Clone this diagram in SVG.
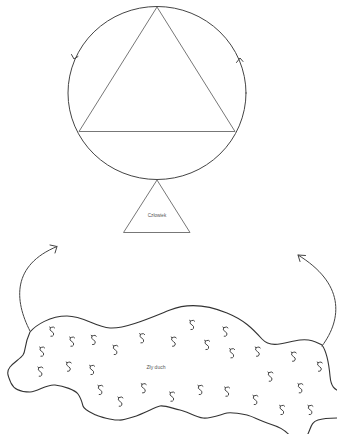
<svg xmlns="http://www.w3.org/2000/svg" width="337" height="434" viewBox="0 0 337 434">
<style>
.ln{fill:none;stroke:#444;stroke-width:1;stroke-linecap:round;stroke-linejoin:round}
.tri{fill:none;stroke:#777;stroke-width:1}
.blob{fill:#fff;stroke:#333;stroke-width:1.1;stroke-linejoin:round}
.sq{fill:none;stroke:#333;stroke-width:0.9;stroke-linecap:round;stroke-linejoin:round}
.lbl{font-family:"Liberation Sans",Arial,sans-serif;fill:#555;text-anchor:middle}
</style>
<defs>
<path id="s" class="sq" d="M-2.2,-4.6 Q-1.2,-3.4 0,-4.4 Q1.8,-5.4 3,-3.8 M-1.4,-4 Q-3,-1.4 0.3,0 Q2.6,1 1.8,3.4 Q1.2,4.8 -0.8,4.6"/>
</defs>
<rect width="337" height="434" fill="#fff"/>
<g id="trinity">
<ellipse cx="157" cy="93" rx="89" ry="86.5" class="ln"/>
<polygon points="157,7 79,131.5 235,131.5" class="tri"/>
<path class="ln" d="M71.5,54.5 L74,59 L78,56.5"/>
<path class="ln" d="M236.5,62.5 L240,58 L243,61.5"/>
</g>
<g id="czlowiek">
<polygon points="157,180 123.5,232.5 190,232.5" class="tri"/>
<text x="157" y="216.5" class="lbl" font-size="4.6">Człowiek</text>
</g>
<g id="zly-duch">
<path class="blob" d="M30,332 C36,325 50,316 67,316 S95,327 110,328 S150,318 170,310 S210,306 227,313 S252,328 262,339 S288,341 300,340 S316,342 322,345 C327,352 329,365 330,376 S334,389 342,393 L342,418 C335,418 325,418 318,420 S311,428 307,436 L290,436 C287,432 280,427 270,424 S252,416 247,415 S232,412 227,413 S210,419 203,418 S186,411 180,410 S165,405 160,406 S145,413 133,417 S122,420 117,420 S100,417 96,415 S84,410 83,406 S81,398 78,394 S64,386 55,385 S38,392 30,392 S14,390 11,383 S6,372 10,367 S20,359 23,355 S24,345 30,332 Z"/>
<use href="#s" x="51.7" y="331.7"/>
<use href="#s" x="71.7" y="341.7"/>
<use href="#s" x="93.3" y="340"/>
<use href="#s" x="115" y="350"/>
<use href="#s" x="141.7" y="338.3"/>
<use href="#s" x="41.7" y="351.7"/>
<use href="#s" x="40" y="371.7"/>
<use href="#s" x="68.3" y="366.7"/>
<use href="#s" x="91.7" y="370"/>
<use href="#s" x="100" y="390"/>
<use href="#s" x="120" y="401.7"/>
<use href="#s" x="143.3" y="388.3"/>
<use href="#s" x="191.7" y="325"/>
<use href="#s" x="173.3" y="341.7"/>
<use href="#s" x="206.7" y="345"/>
<use href="#s" x="225" y="331.7"/>
<use href="#s" x="231.7" y="353.3"/>
<use href="#s" x="257.3" y="351.7"/>
<use href="#s" x="293.3" y="356.7"/>
<use href="#s" x="319.3" y="366.7"/>
<use href="#s" x="270" y="376.7"/>
<use href="#s" x="300" y="388.3"/>
<use href="#s" x="171.7" y="396.7"/>
<use href="#s" x="200" y="390"/>
<use href="#s" x="226.7" y="391.7"/>
<use href="#s" x="255" y="400"/>
<use href="#s" x="281.7" y="410"/>
<use href="#s" x="310" y="410"/>
<text x="156" y="368.5" class="lbl" font-size="5">Zły duch</text>
</g>
<g id="connectors">
<path class="ln" d="M30,331 C14,300 12,265 57,246.5"/>
<path class="ln" d="M50,245 L57,246.5 L55,253"/>
<path class="ln" d="M322,346 C343,318 344,283 298,255"/>
<path class="ln" d="M305.5,255.5 L298,255 L300,261.5"/>
</g>
</svg>
